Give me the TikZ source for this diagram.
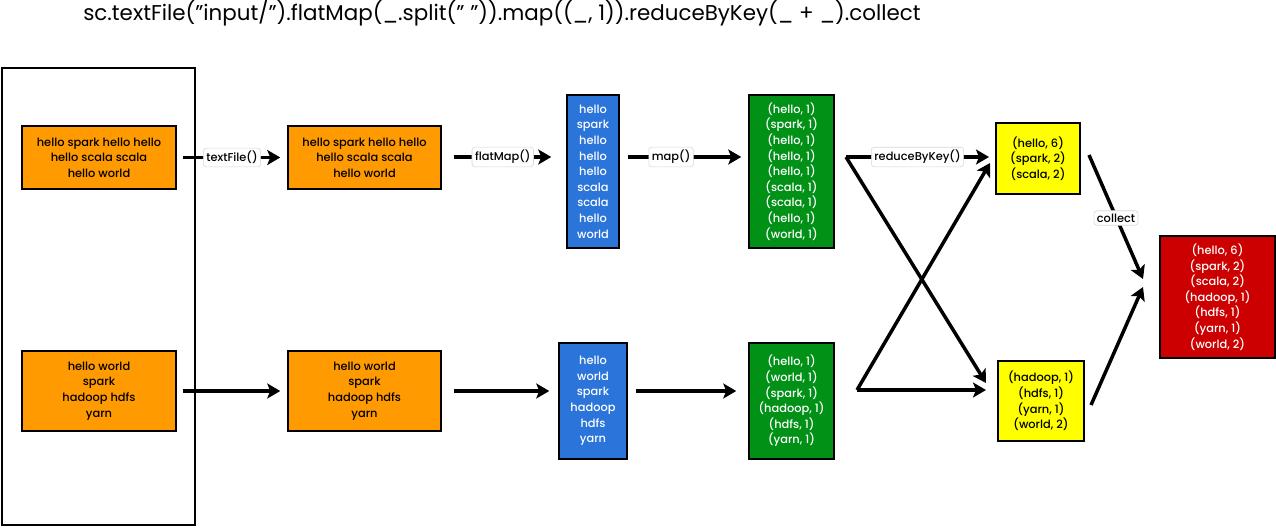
\documentclass[tikz,border=0pt]{standalone}
\usepackage{fontspec}
\setmainfont{Poppins}
\newfontfamily\medfont{Poppins Medium}
\usetikzlibrary{arrows.meta}
\definecolor{oran}{RGB}{255,154,0}
\definecolor{blu}{RGB}{42,116,218}
\definecolor{grn}{RGB}{0,145,22}
\definecolor{yel}{RGB}{255,255,0}
\definecolor{rd}{RGB}{204,0,0}
\definecolor{lblgray}{RGB}{215,215,215}
\tikzset{
  box/.style={draw=black, line width=1.5pt, align=center, inner sep=0pt,
    font=\medfont\fontsize{11.4}{15.6}\selectfont},
  obox/.style={box, fill=oran, text=black},
  bbox/.style={box, fill=blu, text=white},
  gbox/.style={box, fill=grn, text=white},
  ybox/.style={box, fill=yel, text=black},
  rbox/.style={box, fill=rd, text=white},
  arr/.style={line width=3.5pt, -{Stealth[length=13pt,width=15pt,inset=3pt]}},
  lbl/.style={fill=white, draw=lblgray, line width=0.6pt, rounded corners=3pt,
    inner xsep=3pt, inner ysep=3pt, font=\medfont\fontsize{11.4}{13}\selectfont, text=black},
}
\begin{document}
\begin{tikzpicture}[x=1pt,y=-1pt]
\useasboundingbox (0,0) rectangle (1276,527);
% title
\node (title) at (502,13) {\fontsize{21.4}{24}\selectfont sc.textFile("input/").flatMap(\_.split(" ")).map((\_, 1)).reduceByKey(\_ + \_).collect};
% outer frame
\node[draw=black, line width=1.8pt, minimum width=193pt, minimum height=457pt, inner sep=0pt] (frame) at (98.5,296.5) {};
% boxes
\node[obox, minimum width=154pt, minimum height=63pt] (o1) at (99,157.5) {hello spark hello hello\\hello scala scala\\hello world};
\node[obox, minimum width=154pt, minimum height=80pt] (o2) at (99,391) {hello world\\spark\\hadoop hdfs\\yarn};
\node[obox, minimum width=153pt, minimum height=63pt] (o3) at (364.5,157.5) {hello spark hello hello\\hello scala scala\\hello world};
\node[obox, minimum width=153pt, minimum height=80pt] (o4) at (364.5,391) {hello world\\spark\\hadoop hdfs\\yarn};
\node[bbox, minimum width=52pt, minimum height=153pt] (b1) at (593,171.5) {hello\\spark\\hello\\hello\\hello\\scala\\scala\\hello\\world};
\node[bbox, minimum width=68pt, minimum height=116pt] (b2) at (593,401) {hello\\world\\spark\\hadoop\\hdfs\\yarn};
\node[gbox, minimum width=85pt, minimum height=153pt] (g1) at (791.5,171.5) {(hello, 1)\\(spark, 1)\\(hello, 1)\\(hello, 1)\\(hello, 1)\\(scala, 1)\\(scala, 1)\\(hello, 1)\\(world, 1)};
\node[gbox, minimum width=85pt, minimum height=116pt] (g2) at (791.5,401) {(hello, 1)\\(world, 1)\\(spark, 1)\\(hadoop, 1)\\(hdfs, 1)\\(yarn, 1)};
\node[ybox, minimum width=84pt, minimum height=71pt] (y1) at (1038,158.5) {(hello, 6)\\(spark, 2)\\(scala, 2)};
\node[ybox, minimum width=86pt, minimum height=80pt] (y2) at (1041,401) {(hadoop, 1)\\(hdfs, 1)\\(yarn, 1)\\(world, 2)};
\node[rbox, minimum width=115pt, minimum height=122pt] (r) at (1217.5,297) {(hello, 6)\\(spark, 2)\\(scala, 2)\\(hadoop, 1)\\(hdfs, 1)\\(yarn, 1)\\(world, 2)};
% straight arrows
\draw[arr, shorten <=6pt, shorten >=7pt] (o1.east) -- node[lbl] (l1) {textFile()} (o3.west);
\draw[arr, shorten <=6pt, shorten >=7pt] (o2.east) -- (o4.west);
\draw[arr, shorten <=12pt, shorten >=15pt] (o3.east |- 0,157) -- node[lbl, pos=0.49] (l2) {flatMap()} (b1.west |- 0,157);
\draw[arr, shorten <=12pt, shorten >=9pt] (o4.east) -- (b2.west |- 0,391);
\draw[arr, shorten <=8pt, shorten >=7pt] (b1.east |- 0,157) -- node[lbl, pos=0.4] (l3) {map()} (g1.west |- 0,157);
\draw[arr, shorten <=8pt, shorten >=12pt] (b2.east |- 0,391) -- (g2.west |- 0,391);
% shuffle
\coordinate (c1) at (846,157);
\coordinate (c2) at (857,390);
\coordinate (t1) at (989,157);
\coordinate (t1b) at (990,163);
\coordinate (t2) at (986,390);
\coordinate (t2b) at (986,383);
\draw[arr] (c1) -- node[lbl, pos=0.5] (l4) {reduceByKey()} (t1);
\draw[arr] (c1) -- (t2b);
\draw[arr] (c2) -- (t2);
\draw[arr] (c2) -- (t1b);
% collect
\coordinate (s1) at (1089,155);
\coordinate (s2) at (1091,405);
\coordinate (e1) at (1143,279);
\coordinate (e2) at (1143,287);
\draw[arr] (s1) -- (e1);
\draw[arr] (s2) -- (e2);
\node[lbl] (l5) at (1116,218) {collect};
\end{tikzpicture}
\end{document}
